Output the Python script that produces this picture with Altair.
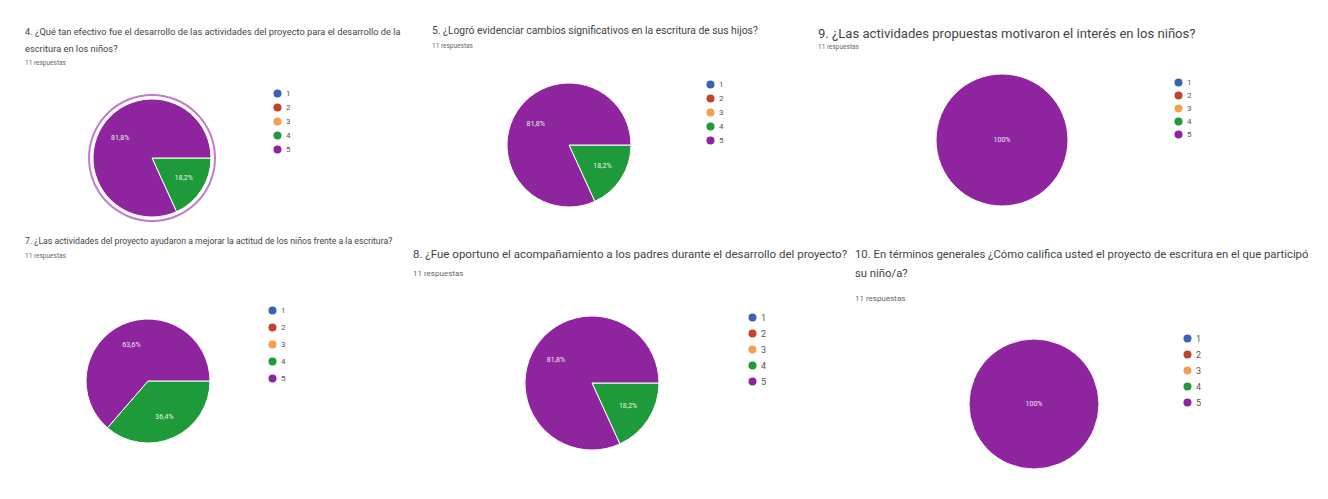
import math
import altair as alt
import pandas as pd

cats = ["1", "2", "3", "4", "5"]
colors = ["#3a64b0", "#c0452e", "#f0a050", "#1f9a3a", "#8e249e"]

q4 = [0, 0, 0, 2, 9]
q5 = [0, 0, 0, 2, 9]
q9 = [0, 0, 0, 0, 11]
q7 = [0, 0, 0, 4, 7]
q8 = [0, 0, 0, 2, 9]
q10 = [0, 0, 0, 0, 11]

t4 = ["4. ¿Qué tan efectivo fue el desarrollo de las actividades del proyecto para el desarrollo de la",
      "escritura en los niños?"]
t5 = ["5. ¿Logró evidenciar cambios significativos en la escritura de sus hijos?"]
t9 = ["9. ¿Las actividades propuestas motivaron el interés en los niños?"]
t7 = ["7. ¿Las actividades del proyecto ayudaron a mejorar la actitud de los niños frente a la escritura?"]
t8 = ["8. ¿Fue oportuno el acompañamiento a los padres durante el desarrollo del proyecto?"]
t10 = ["10. En términos generales ¿Cómo califica usted el proyecto de escritura en el que participó",
       "su niño/a?"]
sub = "11 respuestas"


def panel(title, counts, w, h, cx, cy, r, lx, ly, lpad, lfs, fs, ss, lh, off, spad, ring=False):
    df = pd.DataFrame({"cat": cats, "count": counts, "k": [1, 2, 3, 4, 5]})
    base = alt.Chart(df).transform_filter("datum.count > 0").transform_joinaggregate(
        total="sum(count)"
    ).transform_calculate(
        label="datum.count == datum.total ? '100%' : replace(format(datum.count / datum.total, '.1%'), '.', ',')",
        lr=f"datum.count == datum.total ? 0 : {r * 0.64}",
    )
    theta = alt.Theta("count:Q", stack=True,
                      scale=alt.Scale(range=[math.pi / 2, math.pi / 2 + 2 * math.pi]))
    arcs = base.mark_arc(radius=r, stroke="white", strokeWidth=1).encode(
        theta=theta,
        order=alt.Order("k:Q"),
        color=alt.Color("cat:N", scale=alt.Scale(domain=cats, range=colors),
                        legend=alt.Legend(orient="none", legendX=lx, legendY=ly, title=None,
                                          symbolType="circle", symbolSize=65,
                                          symbolStrokeWidth=0, labelFontSize=lfs,
                                          labelColor="#555", labelFont="Roboto",
                                          rowPadding=lpad)),
        x=alt.value(cx), y=alt.value(cy),
    )
    text = base.mark_text(color="white", fontSize=7, font="Roboto", opacity=0.9).encode(
        theta=theta,
        order=alt.Order("k:Q"),
        detail="cat:N",
        text="label:N",
        radius=alt.Radius("lr:Q", scale=None),
        x=alt.value(cx), y=alt.value(cy),
    )
    layers = [arcs, text]
    if ring:
        ringl = alt.Chart(pd.DataFrame({"a": [0]})).mark_arc(
            radius=r + 5, radius2=r + 3, theta=0, theta2=2 * math.pi, color="#c27ccf"
        ).encode(x=alt.value(cx), y=alt.value(cy))
        layers = [ringl] + layers
    return alt.layer(*layers).properties(
        width=w, height=h,
        title=alt.TitleParams(text=title, subtitle=sub, anchor="start", fontSize=fs,
                              font="Roboto", fontWeight="normal", color="#444",
                              subtitleFontSize=ss, subtitleColor="#666",
                              subtitleFont="Roboto", lineHeight=lh,
                              subtitlePadding=spad, offset=off),
    )


p1 = panel(t4, q4, 400, 159, 127, 87, 59, 248, 18, 5, 8, 9.3, 6.5, 17, 5, 5, ring=True)
p2 = panel(t5, q5, 379, 159, 137, 74, 62, 274, 9, 5, 8, 10.3, 6.5, 14, 22, 6)
p3 = panel(t9, q9, 490, 159, 184, 69, 66, 356, 7, 4, 8, 13.1, 6.5, 14, 21, 2)
p4 = panel(t7, q7, 381, 180, 123, 77, 62, 243, 2, 8, 8, 8.7, 6.5, 14, 45, 7)
p5 = panel(t8, q8, 435, 180, 179, 79, 67, 335, 9, 6, 9, 11.5, 8, 14, 26, 10)
p6 = panel(t10, q10, 450, 180, 179, 100, 65, 328, 30, 6, 9, 11.3, 8, 19, 1, 16)

row1 = alt.hconcat(p1, p2, p3, spacing=7).resolve_scale(color="independent", theta="independent")
row2 = alt.hconcat(p4, p5, p6, spacing=7).resolve_scale(color="independent", theta="independent")

chart = alt.vconcat(row1, row2, spacing=6).resolve_scale(
    color="independent", theta="independent"
).properties(
    padding={"left": 17, "top": 18, "right": 5, "bottom": 5},
    background="white",
).configure_view(stroke=None)

chart.save("out.html", embed_options={"renderer": "svg", "actions": False})
